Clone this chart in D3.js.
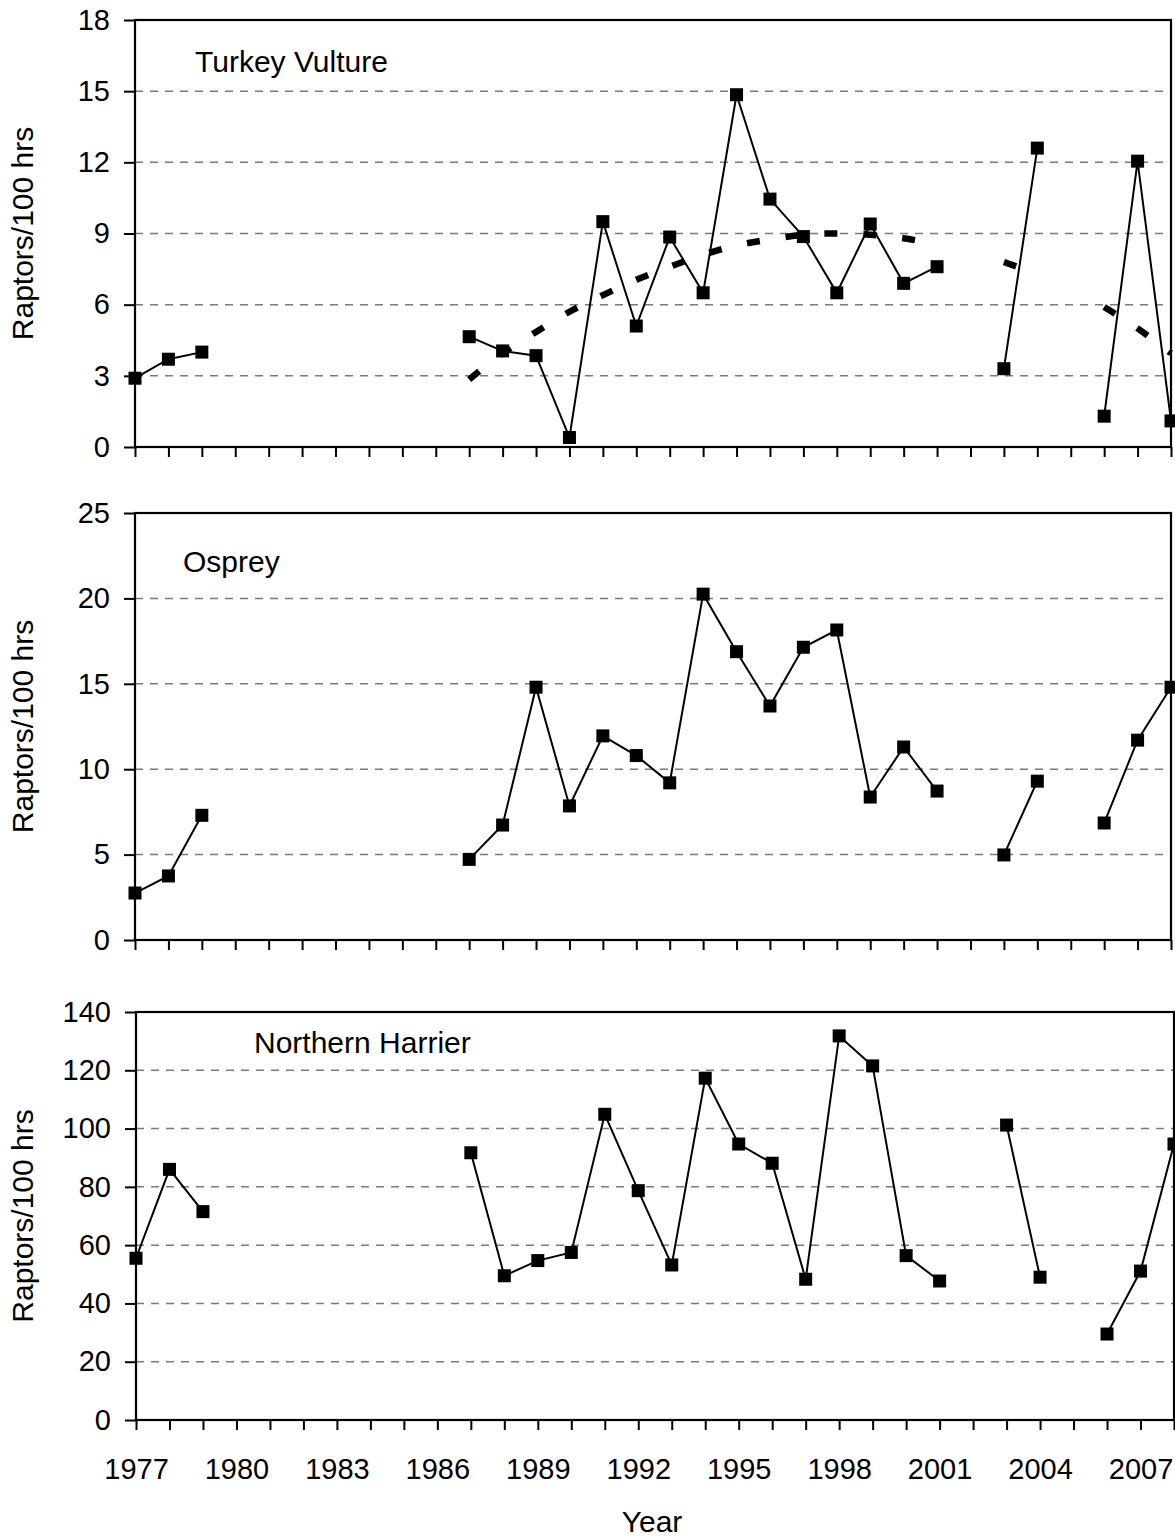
<!DOCTYPE html>
<html>
<head>
<meta charset="utf-8">
<script src="https://cdn.jsdelivr.net/npm/d3@7"></script>
<style>
  html, body { margin: 0; padding: 0; background: #fff; }
  svg { display: block; }
  text { font-family: "Liberation Sans", Arial, sans-serif; fill: #000; }
</style>
</head>
<body>
<svg id="chart" width="1175" height="1538"></svg>
<script>
// ---- data ----
const years = [1977,1978,1979,1980,1981,1982,1983,1984,1985,1986,1987,1988,1989,1990,1991,1992,
               1993,1994,1995,1996,1997,1998,1999,2000,2001,2002,2003,2004,2005,2006,2007,2008];
const yearTickLabels = [1977,1980,1983,1986,1989,1992,1995,1998,2001,2004,2007];

const turkeyVulture = [2.9,3.7,4.0,null,null,null,null,null,null,null,
  4.65,4.05,3.85,0.4,9.5,5.1,8.85,6.5,14.85,10.45,8.87,6.5,9.4,6.9,7.6,
  null,3.3,12.6,null,1.3,12.05,1.1];
const turkeyVultureTrend = [null,null,null,null,null,null,null,null,null,null,
  2.85,3.95,4.85,5.7,6.4,7.05,7.6,8.1,8.5,8.75,8.95,9.0,8.95,8.8,8.55,
  null,7.8,7.3,null,5.9,5.0,3.95];
const osprey = [2.75,3.75,7.3,null,null,null,null,null,null,null,
  4.72,6.73,14.8,7.85,11.95,10.8,9.2,20.25,16.88,13.7,17.14,18.15,8.37,11.3,8.72,
  null,4.98,9.3,null,6.85,11.7,14.8];
const northernHarrier = [55.5,86,71.5,null,null,null,null,null,null,null,
  91.7,49.5,54.7,57.5,104.9,78.7,53.2,117.3,94.7,88.1,48.3,131.8,121.5,56.4,47.7,
  null,101.2,49,null,29.5,51.1,94.7];

const tvTicks = [0,3,6,9,12,15,18];
const ospreyTicks = [0,5,10,15,20,25];
const harrierTicks = [0,20,40,60,80,100,120,140];

// ---- layout ----
const panels = [
  {title:"Turkey Vulture", values:turkeyVulture, trend:turkeyVultureTrend, ticks:tvTicks,
   top:20, bottom:447, left:135, right:1171, titleX:195, titleY:72, xLabels:false},
  {title:"Osprey", values:osprey, trend:null, ticks:ospreyTicks,
   top:513, bottom:940, left:135, right:1171, titleX:183, titleY:572, xLabels:false},
  {title:"Northern Harrier", values:northernHarrier, trend:null, ticks:harrierTicks,
   top:1012, bottom:1420, left:136, right:1174, titleX:254, titleY:1053, xLabels:true}
];

const svg = d3.select("#chart");
const tickFont = 29;

panels.forEach(p => {
  const g = svg.append("g");
  const x = d3.scaleLinear().domain([1977, 2008]).range([p.left, p.right]);
  const y = d3.scaleLinear().domain([p.ticks[0], p.ticks[p.ticks.length-1]]).range([p.bottom, p.top]);

  // gridlines
  g.append("g").selectAll("line")
    .data(p.ticks.slice(1, -1))
    .join("line")
    .attr("x1", p.left).attr("x2", p.right)
    .attr("y1", d => y(d)).attr("y2", d => y(d))
    .attr("stroke", "#7a7a7a").attr("stroke-width", 1.5)
    .attr("stroke-dasharray", "8,7");

  // y axis
  const yAxis = d3.axisLeft(y).tickValues(p.ticks).tickSize(11).tickPadding(14)
    .tickFormat(d3.format("d"));
  const ya = g.append("g").attr("transform", `translate(${p.left},0)`).call(yAxis);
  ya.select(".domain").remove();
  ya.selectAll(".tick line").attr("stroke", "#000").attr("stroke-width", 2);
  ya.selectAll(".tick text").attr("font-size", tickFont)
    .attr("font-family", "Liberation Sans, Arial, sans-serif").attr("fill", "#000");

  // x axis
  const xAxis = d3.axisBottom(x).tickValues(years).tickSize(10).tickPadding(28)
    .tickFormat(d => p.xLabels && yearTickLabels.includes(d) ? String(d) : "");
  const xa = g.append("g").attr("transform", `translate(0,${p.bottom})`).call(xAxis);
  xa.select(".domain").remove();
  xa.selectAll(".tick line").attr("stroke", "#000").attr("stroke-width", 2);
  xa.selectAll(".tick text").attr("font-size", tickFont)
    .attr("font-family", "Liberation Sans, Arial, sans-serif").attr("fill", "#000");

  // trend line
  if (p.trend) {
    const trendLine = d3.line()
      .defined((d, i) => p.trend[i] !== null)
      .x((d, i) => x(years[i]))
      .y((d, i) => y(p.trend[i]))
      .curve(d3.curveCatmullRom);
    g.append("path").datum(p.trend)
      .attr("d", trendLine)
      .attr("fill", "none").attr("stroke", "#000").attr("stroke-width", 6.5)
      .attr("stroke-dasharray", "13,26");
  }

  // data line
  const line = d3.line()
    .defined((d, i) => p.values[i] !== null)
    .x((d, i) => x(years[i]))
    .y((d, i) => y(p.values[i]));
  g.append("path").datum(p.values)
    .attr("d", line)
    .attr("fill", "none").attr("stroke", "#000").attr("stroke-width", 2);

  // markers
  const pts = years.map((yr, i) => ({yr, v: p.values[i]})).filter(d => d.v !== null);
  g.append("g").selectAll("rect").data(pts).join("rect")
    .attr("x", d => x(d.yr) - 6.5).attr("y", d => y(d.v) - 6.5)
    .attr("width", 13).attr("height", 13).attr("fill", "#000");

  // frame
  g.append("rect")
    .attr("x", p.left).attr("y", p.top)
    .attr("width", p.right - p.left).attr("height", p.bottom - p.top)
    .attr("fill", "none").attr("stroke", "#000").attr("stroke-width", 2.2);

  // title
  g.append("text").attr("x", p.titleX).attr("y", p.titleY)
    .attr("font-size", 30).text(p.title);

  // y label
  g.append("text")
    .attr("transform", `translate(33,${(p.top + p.bottom) / 2}) rotate(-90)`)
    .attr("text-anchor", "middle").attr("font-size", 30)
    .text("Raptors/100 hrs");
});

svg.append("text").attr("x", 652).attr("y", 1532).attr("text-anchor", "middle")
  .attr("font-size", 30).text("Year");
</script>
</body>
</html>
